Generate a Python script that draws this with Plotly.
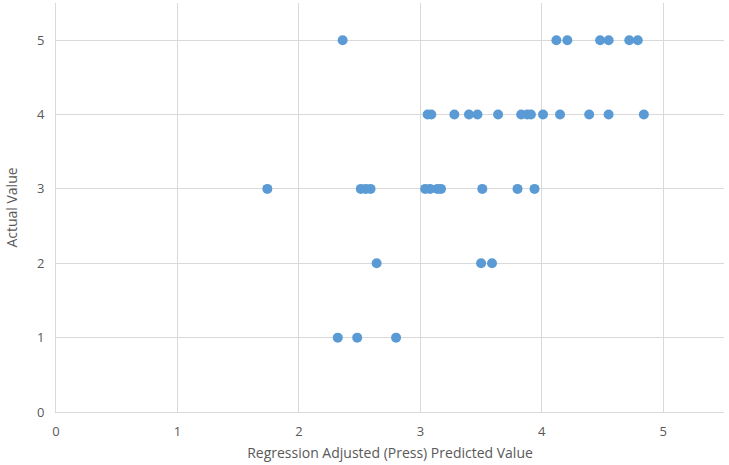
import plotly.graph_objects as go

# predicted values (x) and actual values (y)
predicted = [
    2.36, 4.12, 4.21, 4.48, 4.55, 4.72, 4.79,
    3.06, 3.09, 3.28, 3.40, 3.47, 3.64, 3.83, 3.88, 3.91, 4.01, 4.15, 4.39, 4.55, 4.84,
    1.74, 2.51, 2.55, 2.59, 3.04, 3.08, 3.14, 3.17, 3.51, 3.80, 3.94,
    2.64, 3.50, 3.59,
    2.32, 2.48, 2.80,
]
actual = (
    [5] * 7
    + [4] * 14
    + [3] * 11
    + [2] * 3
    + [1] * 3
)

tick_vals = [0, 1, 2, 3, 4, 5]

fig = go.Figure()
fig.add_trace(
    go.Scatter(
        x=predicted,
        y=actual,
        mode="markers",
        marker={"color": "#5B9BD5", "size": 10},
        showlegend=False,
    )
)

axis_style = {
    "showgrid": True,
    "gridcolor": "#D9D9D9",
    "gridwidth": 1,
    "zeroline": False,
    "showline": True,
    "linecolor": "#D9D9D9",
    "linewidth": 1,
    "tickvals": tick_vals,
    "tickfont": {"color": "#595959", "size": 13},
    "ticks": "",
    "automargin": False,
}

fig.update_xaxes(
    range=[0, 5.5],
    title={"text": "Regression Adjusted (Press) Predicted Value",
           "font": {"color": "#595959", "size": 14}, "standoff": 9},
    ticklabelstandoff=7,
    **axis_style,
)
fig.update_yaxes(
    range=[0, 5.5],
    title={"text": "Actual Value", "font": {"color": "#595959", "size": 14}, "standoff": 16},
    ticklabelstandoff=8,
    **axis_style,
)

fig.update_layout(
    width=729,
    height=465,
    plot_bgcolor="white",
    paper_bgcolor="white",
    font={"family": "Open Sans, Liberation Sans, sans-serif"},
    margin={"l": 56, "r": 5, "t": 3, "b": 53},
)

# drop the page's default body margin so the figure sits at the window's corner
fig.write_html(
    "out.html",
    config={"displayModeBar": False},
    post_script="document.body.style.margin='0';",
)
